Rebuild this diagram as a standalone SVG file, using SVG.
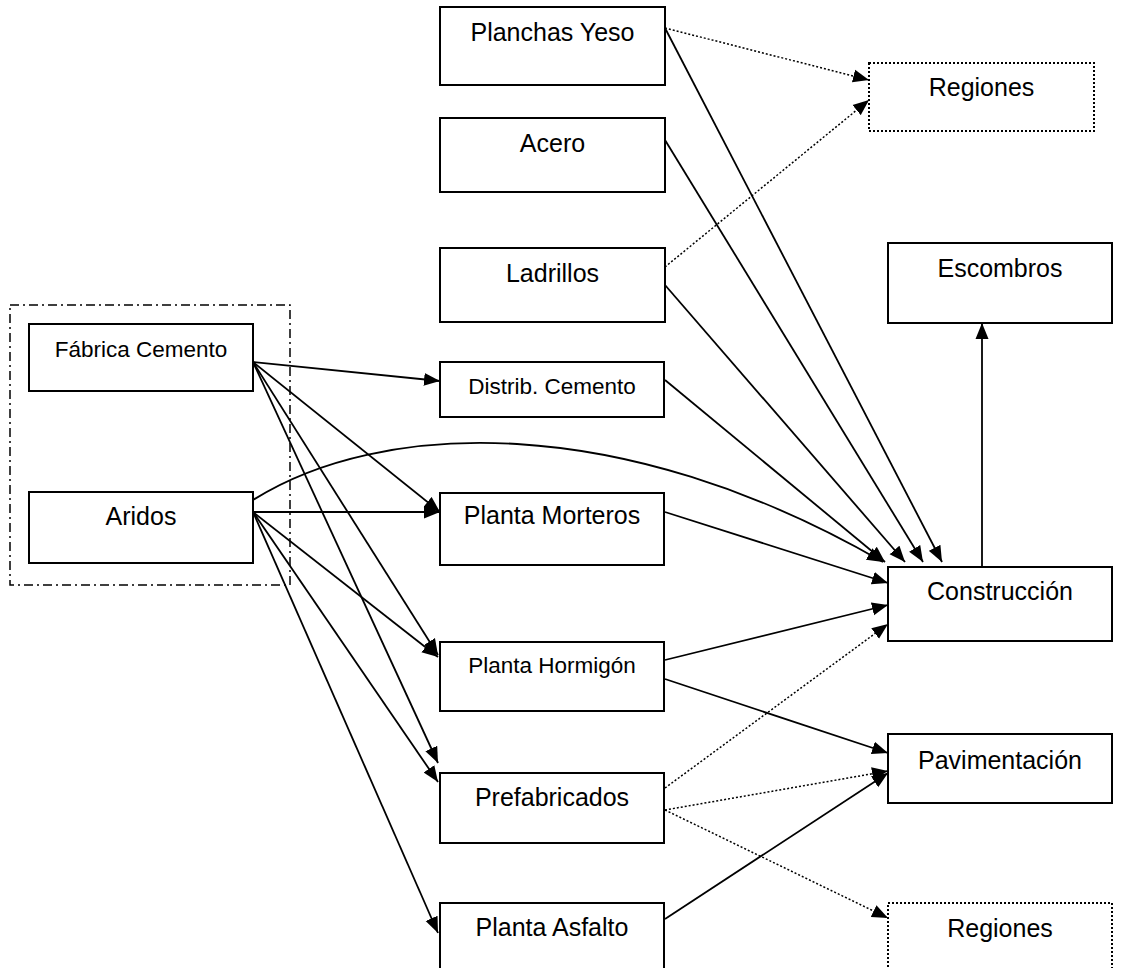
<svg xmlns="http://www.w3.org/2000/svg" width="1125" height="968" viewBox="0 0 1125 968">
<style>
.box{fill:#fff;stroke:#000;stroke-width:2}
.dbox{fill:#fff;stroke:#000;stroke-width:2;stroke-dasharray:2,2}
.grp{fill:none;stroke:#000;stroke-width:1.5;stroke-dasharray:9,4,2,4}
.t{font-family:"Liberation Sans",Arial,sans-serif;font-size:25px;text-anchor:middle;fill:#000}
.s{font-size:22.5px}
.c{fill:none;stroke:#000;stroke-width:1.8;marker-end:url(#ah)}
.d{fill:none;stroke:#000;stroke-width:1.5;stroke-dasharray:2,2;marker-end:url(#ah)}
</style>
<defs>
<marker id="ah" markerUnits="userSpaceOnUse" markerWidth="18" markerHeight="14" refX="16" refY="7" orient="auto">
<path d="M0,0.5 L16,7 L0,13.5 z" fill="#000"/>
</marker>
</defs>
<rect width="1125" height="968" fill="#fff"/>
<rect id="grupo" class="grp" x="10" y="305" width="280" height="280"/>
<g id="connectors">
<path class="d" d="M665,28 L869,80"/>
<path class="d" d="M665,267 L869,100"/>
<path class="c" d="M665,28 L942,562"/>
<path class="c" d="M665,140 L923,562"/>
<path class="c" d="M665,285 L905,562"/>
<path class="c" d="M665,380 L885,562"/>
<path class="c" d="M253,500 C380,420 620,410 883,562"/>
<path class="c" d="M665,512 L888,583"/>
<path class="c" d="M665,660 L888,605"/>
<path class="d" d="M665,788 L888,624"/>
<path class="c" d="M982,567 L982,323"/>
<path class="c" d="M665,679 L888,753"/>
<path class="d" d="M665,810 L888,771"/>
<path class="c" d="M665,919 L888,773"/>
<path class="d" d="M665,810 L888,918"/>
<path class="c" d="M253,362 L440,381"/>
<path class="c" d="M253,362 L440,512"/>
<path class="c" d="M253,362 L438,655"/>
<path class="c" d="M253,362 L438,763"/>
<path class="c" d="M253,512 L440,512"/>
<path class="c" d="M253,512 L438,657"/>
<path class="c" d="M253,512 L438,782"/>
<path class="c" d="M253,512 L438,933"/>
</g>
<g id="planchas"><rect class="box" x="440" y="7" width="225" height="78"/><text class="t" x="552.5" y="41">Planchas Yeso</text></g>
<g id="acero"><rect class="box" x="440" y="118" width="225" height="74"/><text class="t" x="552.5" y="152">Acero</text></g>
<g id="ladrillos"><rect class="box" x="440" y="248" width="225" height="74"/><text class="t" x="552.5" y="282">Ladrillos</text></g>
<g id="regiones1"><rect class="dbox" x="869" y="63" width="225" height="68"/><text class="t" x="981.5" y="96">Regiones</text></g>
<g id="escombros"><rect class="box" x="888" y="243" width="224" height="80"/><text class="t" x="1000" y="277">Escombros</text></g>
<g id="fabrica"><rect class="box" x="29" y="324" width="224" height="67"/><text class="t s" x="141" y="357">Fábrica Cemento</text></g>
<g id="aridos"><rect class="box" x="29" y="492" width="224" height="71"/><text class="t" x="141" y="525">Aridos</text></g>
<g id="distrib"><rect class="box" x="440" y="362" width="224" height="55"/><text class="t s" x="552" y="394">Distrib. Cemento</text></g>
<g id="morteros"><rect class="box" x="440" y="493" width="224" height="72"/><text class="t" x="552" y="524">Planta Morteros</text></g>
<g id="construccion"><rect class="box" x="888" y="567" width="224" height="74"/><text class="t" x="1000" y="600">Construcción</text></g>
<g id="hormigon"><rect class="box" x="440" y="642" width="224" height="69"/><text class="t s" x="552" y="673">Planta Hormigón</text></g>
<g id="pavimentacion"><rect class="box" x="888" y="734" width="224" height="69"/><text class="t" x="1000" y="769">Pavimentación</text></g>
<g id="prefabricados"><rect class="box" x="440" y="773" width="224" height="70"/><text class="t" x="552" y="806">Prefabricados</text></g>
<g id="asfalto"><rect class="box" x="440" y="903" width="224" height="72"/><text class="t" x="552" y="936">Planta Asfalto</text></g>
<g id="regiones2"><rect class="dbox" x="888" y="903" width="224" height="72"/><text class="t" x="1000" y="937">Regiones</text></g>
</svg>
